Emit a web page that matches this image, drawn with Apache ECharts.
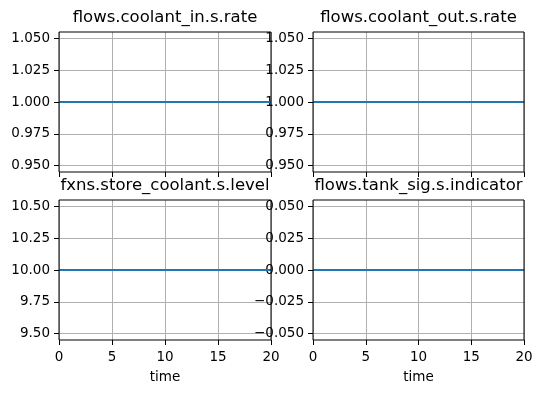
<!DOCTYPE html>
<html>
<head>
<meta charset="utf-8">
<script src="https://cdn.jsdelivr.net/npm/echarts@6/dist/echarts.min.js"></script>
<style>html,body{margin:0;padding:0;background:#fff}#c{width:542px;height:393px}</style>
</head>
<body>
<div id="c"></div>
<script>
const titles = ['flows.coolant_in.s.rate', 'flows.coolant_out.s.rate', 'fxns.store_coolant.s.level', 'flows.tank_sig.s.indicator'];
const timeVals = [0, 1, 2, 3, 4, 5, 6, 7, 8, 9, 10, 11, 12, 13, 14, 15, 16, 17, 18, 19, 20];
const coolantInRate = [1, 1, 1, 1, 1, 1, 1, 1, 1, 1, 1, 1, 1, 1, 1, 1, 1, 1, 1, 1, 1];
const coolantOutRate = [1, 1, 1, 1, 1, 1, 1, 1, 1, 1, 1, 1, 1, 1, 1, 1, 1, 1, 1, 1, 1];
const storeLevel = [10, 10, 10, 10, 10, 10, 10, 10, 10, 10, 10, 10, 10, 10, 10, 10, 10, 10, 10, 10, 10];
const tankIndicator = [0, 0, 0, 0, 0, 0, 0, 0, 0, 0, 0, 0, 0, 0, 0, 0, 0, 0, 0, 0, 0];
const xTicks = [0, 5, 10, 15, 20];
const yTicksRate = [0.95, 0.975, 1.0, 1.025, 1.05];
const yTicksLevel = [9.5, 9.75, 10.0, 10.25, 10.5];
const yTicksInd = [-0.05, -0.025, 0.0, 0.025, 0.05];
const yRanges = [[0.945, 1.055], [0.945, 1.055], [9.45, 10.55], [-0.055, 0.055]];
const yDecimals = [3, 3, 2, 3];

const seriesData = [coolantInRate, coolantOutRate, storeLevel, tankIndicator];
const yTicksAll = [yTicksRate, yTicksRate, yTicksLevel, yTicksInd];

const FONT = 'DejaVu Sans';
const grids = [
  {left: 59, top: 32, width: 212, height: 140},
  {left: 313, top: 32, width: 211, height: 140},
  {left: 59, top: 200, width: 212, height: 140},
  {left: 313, top: 200, width: 211, height: 140}
];

const option = {
  animation: false,
  backgroundColor: '#fff',
  title: grids.map((g, i) => ({
    text: titles[i],
    left: g.left + g.width / 2,
    top: g.top - 24,
    padding: 0,
    textAlign: 'center',
    textStyle: {fontFamily: FONT, fontSize: 16.5, fontWeight: 'normal', color: '#000', lineHeight: 19}
  })),
  grid: grids.map(g => Object.assign({show: true, borderColor: '#000', borderWidth: 1, backgroundColor: 'transparent', z: 10}, g)),
  xAxis: grids.map((g, i) => ({
    gridIndex: i,
    type: 'value',
    min: 0, max: 20, interval: 5,
    name: i >= 2 ? 'time' : '',
    nameLocation: 'middle',
    nameGap: 30,
    nameTextStyle: {fontFamily: FONT, fontSize: 13.5, color: '#000'},
    axisLine: {show: false, onZero: false},
    axisTick: {show: true, length: 5, lineStyle: {color: '#000', width: 1}},
    axisLabel: {show: i >= 2, margin: 10, fontFamily: FONT, fontSize: 13.5, color: '#000'},
    splitLine: {show: true, lineStyle: {color: '#b0b0b0', width: 1}}
  })),
  yAxis: grids.map((g, i) => ({
    gridIndex: i,
    type: 'value',
    min: yRanges[i][0], max: yRanges[i][1],
    axisLine: {show: false, onZero: false},
    axisTick: {show: true, length: 5, lineStyle: {color: '#000', width: 1}, customValues: yTicksAll[i]},
    axisLabel: {
      customValues: yTicksAll[i],
      margin: 9, fontFamily: FONT, fontSize: 13.5, color: '#000',
      formatter: v => v.toFixed(yDecimals[i]).replace('-', '\u2212')
    },
    splitLine: {show: true, lineStyle: {color: '#b0b0b0', width: 1}}
  })),
  series: seriesData.map((d, i) => ({
    type: 'line',
    xAxisIndex: i, yAxisIndex: i,
    data: timeVals.map((t, k) => [t, d[k]]),
    showSymbol: false,
    lineStyle: {color: '#1f77b4', width: 2},
    z: 5
  }))
};

const chart = echarts.init(document.getElementById('c'), null, {renderer: 'canvas'});
chart.setOption(option);
</script>
</body>
</html>
